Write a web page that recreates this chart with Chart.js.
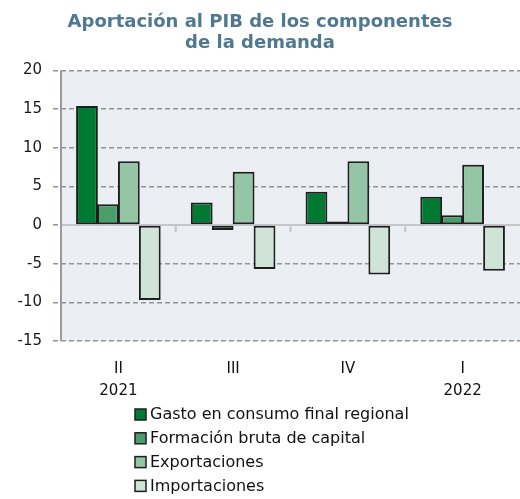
<!DOCTYPE html>
<html>
<head>
<meta charset="utf-8">
<script src="https://cdn.jsdelivr.net/npm/chart.js@4"></script>
<style>
  body { margin: 0; background: #fff; }
</style>
</head>
<body>
<canvas id="canvas" width="520" height="499"></canvas>
<script>
const categories = [['II', '2021'], ['III'], ['IV'], ['I', '2022']];
const gasto = [15.4, 2.9, 4.3, 3.65];
const formacion = [2.7, -0.65, 0.45, 1.25];
const exportaciones = [8.25, 6.9, 8.25, 7.8];
const importaciones = [-9.7, -5.7, -6.4, -5.9];
const seriesNames = ['Gasto en consumo final regional', 'Formación bruta de capital', 'Exportaciones', 'Importaciones'];
const seriesColors = ['#007a33', '#4a9e6a', '#94c6a6', '#cfe4d6'];

const font = 'DejaVu Sans';

// plot background, axis line, zero line, small category ticks
const decor = {
    id: 'decor',
    beforeDraw(chart) {
        const { ctx, chartArea: a } = chart;
        ctx.save();
        ctx.fillStyle = '#ebeef2';
        ctx.fillRect(a.left, a.top, a.right - a.left, a.bottom - a.top);
        ctx.restore();
    },
    beforeDatasetsDraw(chart) {
        const { ctx, chartArea: a, scales: { x, y } } = chart;
        const y0 = y.getPixelForValue(0);
        ctx.save();
        ctx.strokeStyle = '#c4c6c8';
        ctx.lineWidth = 2;
        ctx.beginPath();
        ctx.moveTo(a.left, y0);
        ctx.lineTo(a.right, y0);
        for (let i = 1; i < categories.length; i++) {
            const px = (x.getPixelForValue(i - 1) + x.getPixelForValue(i)) / 2;
            ctx.moveTo(px, y0);
            ctx.lineTo(px, y0 + 7);
        }
        ctx.stroke();
        ctx.strokeStyle = '#9a9a9a';
        ctx.beginPath();
        ctx.moveTo(a.left, a.top);
        ctx.lineTo(a.left, a.bottom);
        ctx.stroke();
        ctx.restore();
    },
    afterDraw(chart) {
        const { ctx } = chart;
        ctx.save();
        ctx.font = '16px "' + font + '"';
        ctx.textBaseline = 'middle';
        chart.data.datasets.forEach((ds, i) => {
            const cy = 414 + i * 23.8;
            ctx.fillStyle = ds.backgroundColor;
            ctx.fillRect(135, cy - 5, 11, 11);
            ctx.strokeStyle = '#1e1e1e';
            ctx.lineWidth = 1.5;
            ctx.strokeRect(135, cy - 5, 11, 11);
            ctx.fillStyle = '#111';
            ctx.fillText(ds.label, 150, cy + 1);
        });
        ctx.restore();
    }
};

const values = [gasto, formacion, exportaciones, importaciones];

new Chart(document.getElementById('canvas'), {
    type: 'bar',
    data: {
        labels: categories,
        datasets: values.map((v, i) => ({
            label: seriesNames[i],
            data: v,
            backgroundColor: seriesColors[i],
            borderColor: '#1e1e1e',
            borderWidth: 2,
            borderSkipped: false,
            categoryPercentage: 0.73,
            barPercentage: 1.04
        }))
    },
    plugins: [decor],
    options: {
        responsive: false,
        animation: false,
        layout: { padding: 0 },
        plugins: {
            legend: { display: false },
            tooltip: { enabled: false },
            title: {
                display: true,
                text: ['Aportación al PIB de los componentes', 'de la demanda'],
                color: '#4f7891',
                font: { family: font, size: 18, weight: 'bold', lineHeight: 1.15 },
                padding: { top: 12, bottom: 17 }
            }
        },
        scales: {
            x: {
                grid: { display: false },
                border: { display: false },
                ticks: {
                    color: '#111',
                    padding: 9,
                    font: { family: font, size: 15, lineHeight: 1.45 }
                },
                afterFit(scale) { scale.height = 158; }
            },
            y: {
                min: -15,
                max: 20,
                border: { display: false, dash: [5, 3] },
                grid: {
                    color: c => c.tick && c.tick.value === 0 ? 'rgba(0,0,0,0)' : '#939393',
                    lineWidth: 1.5,
                    tickLength: 8,
                    tickColor: '#939393',
                    tickBorderDash: [5, 3]
                },
                ticks: {
                    stepSize: 5,
                    color: '#1a1a1a',
                    padding: 11,
                    font: { family: font, size: 15 }
                },
                afterFit(scale) { scale.width = 61; }
            }
        }
    }
});
</script>
</body>
</html>
